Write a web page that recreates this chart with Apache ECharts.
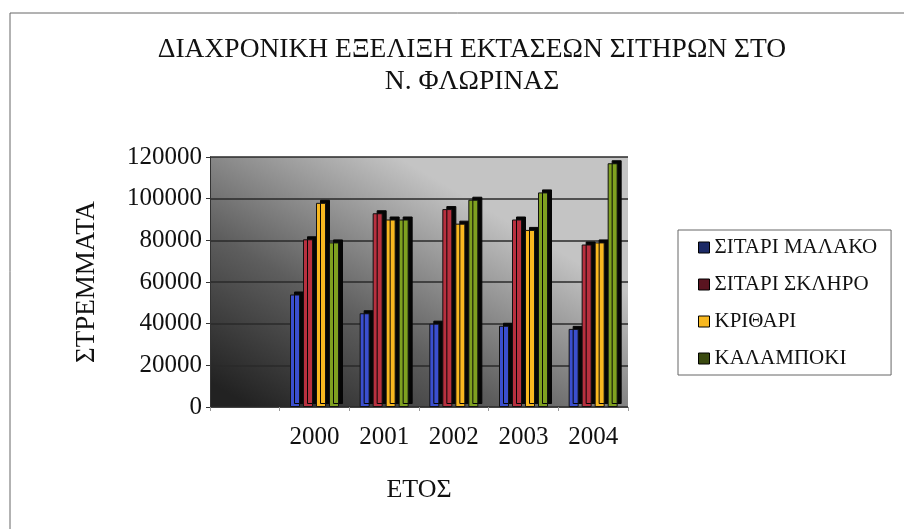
<!DOCTYPE html>
<html>
<head>
<meta charset="utf-8">
<script src="https://cdn.jsdelivr.net/npm/echarts@6/dist/echarts.min.js"></script>
<style>
  html, body { margin: 0; padding: 0; background: #fff; }
  #chart_box { width: 904px; height: 529px; }
</style>
</head>
<body>
<div id="chart_box"></div>
<script>
// 数据
var categories = ['', '2000', '2001', '2002', '2003', '2004'];
var seriesNames = ['ΣΙΤΑΡΙ ΜΑΛΑΚΟ', 'ΣΙΤΑΡΙ ΣΚΛΗΡΟ', 'ΚΡΙΘΑΡΙ', 'ΚΑΛΑΜΠΟΚΙ'];
var sitariMalako = [null, 54000, 45000, 40000, 39000, 37500];
var sitariSklhro = [null, 80500, 93000, 95000, 90000, 78000];
var krithari = [null, 98000, 90000, 88000, 85000, 79000];
var kalampoki = [null, 79000, 90000, 99500, 103000, 117000];
var yTicks = [0, 20000, 40000, 60000, 80000, 100000, 120000];

var barColors = ['#3b4fcf', '#b8303f', '#f8b820', '#7fa020'];
var legendColors = ['#1c2a66', '#5a1420', '#f8b820', '#3a4a10'];
var serif = 'Liberation Serif';

var myChart1 = echarts.init(document.getElementById('chart_box'));

var values = [sitariMalako, sitariSklhro, krithari, kalampoki];
var series = [];
for (var i = 0; i < seriesNames.length; i++) {
    series.push({
        name: seriesNames[i],
        type: 'bar',
        barWidth: 10,
        barGap: '30%',
        data: values[i],
        itemStyle: {
            color: barColors[i],
            borderColor: '#111',
            borderWidth: 1,
            shadowColor: '#050505',
            shadowBlur: 0,
            shadowOffsetX: 4,
            shadowOffsetY: -3
        }
    });
}

var option = {
    animation: false,
    backgroundColor: '#fff',
    title: {
        text: 'ΔΙΑΧΡΟΝΙΚΗ ΕΞΕΛΙΞΗ ΕΚΤΑΣΕΩΝ ΣΙΤΗΡΩΝ ΣΤΟ\nΝ. ΦΛΩΡΙΝΑΣ',
        left: 467,
        top: 29,
        textAlign: 'center',
        textStyle: {
            fontFamily: serif,
            fontSize: 27.5,
            fontWeight: 'normal',
            color: '#111',
            lineHeight: 32
        }
    },
    legend: {
        orient: 'vertical',
        left: 678,
        top: 230,
        padding: [7, 14, 6, 20],
        itemGap: 16,
        itemWidth: 11,
        itemHeight: 11,
        borderColor: '#666',
        borderWidth: 1,
        icon: 'rect',
        data: seriesNames.map(function (n, k) {
            return { name: n, itemStyle: { color: legendColors[k], borderColor: '#000', borderWidth: 1 } };
        }),
        textStyle: { fontFamily: serif, fontSize: 21, color: '#111' }
    },
    graphic: [{
        type: 'rect',
        silent: true,
        shape: { x: 10, y: 13, width: 1000, height: 1000 },
        style: { fill: 'none', stroke: '#666', lineWidth: 1 }
    }],
    grid: {
        left: 210,
        right: 276,
        top: 157,
        bottom: 122,
        show: true,
        borderWidth: 0,
        backgroundColor: new echarts.graphic.LinearGradient(0.1, 1, 0.45, 0, [
            { offset: 0, color: '#222222' },
            { offset: 0.45, color: '#5e5e5e' },
            { offset: 1, color: '#c4c4c4' }
        ])
    },
    xAxis: {
        type: 'category',
        data: categories,
        name: 'ΕΤΟΣ',
        nameLocation: 'middle',
        nameGap: 70,
        nameTextStyle: { fontFamily: serif, fontSize: 26, color: '#111' },
        axisLine: { lineStyle: { color: '#444', width: 1 } },
        axisTick: { show: true, length: 4, lineStyle: { color: '#999' } },
        axisLabel: { fontFamily: serif, fontSize: 25, color: '#111', margin: 18 }
    },
    yAxis: {
        type: 'value',
        min: yTicks[0],
        max: yTicks[yTicks.length - 1],
        interval: yTicks[1] - yTicks[0],
        name: 'ΣΤΡΕΜΜΑΤΑ',
        nameLocation: 'middle',
        nameGap: 110,
        nameRotate: 90,
        nameTextStyle: { fontFamily: serif, fontSize: 27, color: '#111' },
        axisLine: { show: true, lineStyle: { color: '#333', width: 1 } },
        axisTick: { show: true, length: 4, lineStyle: { color: '#333' } },
        axisLabel: {
            fontFamily: serif, fontSize: 25, color: '#111', margin: 8,
            formatter: function (v) { return String(v); }
        },
        splitLine: { show: true, lineStyle: { color: '#2a2a2a', width: 1.5 } }
    },
    series: series
};

myChart1.setOption(option);
</script>
</body>
</html>
